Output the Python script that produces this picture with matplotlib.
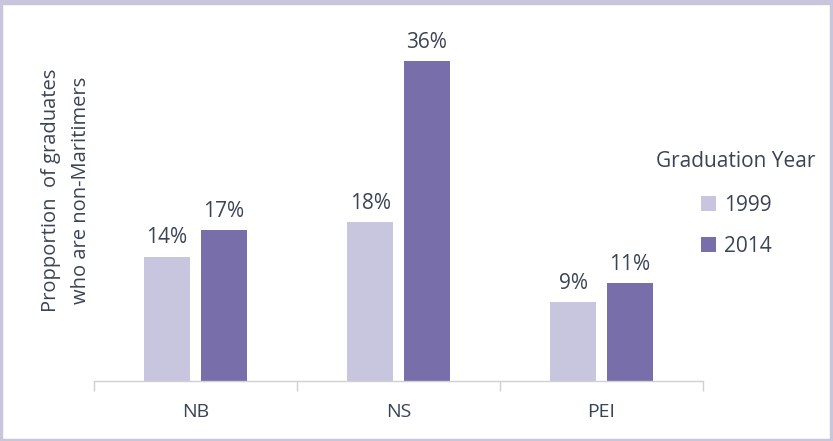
import matplotlib.pyplot as plt
import numpy as np
from matplotlib.patches import Rectangle

# data
provinces = ['NB', 'NS', 'PEI']
years = ['1999', '2014']
share_1999 = [14.0, 17.9, 8.9]
share_2014 = [17.0, 36.0, 11.0]
labels_1999 = ['14%', '18%', '9%']
labels_2014 = ['17%', '36%', '11%']

c1999 = '#c8c5de'
c2014 = '#786ea9'
text_col = '#3b4455'
frame_col = '#c8c5dd'

plt.rcParams['font.family'] = ['Open Sans', 'DejaVu Sans']

fig = plt.figure(figsize=(8.33, 4.41), dpi=100)
W, H = 833, 441
ax = fig.add_axes([94 / W, (H - 381) / H, (703 - 94) / W, (381 - 40) / H])

x = np.arange(len(provinces))
w = 0.227
off = 0.14
b1 = ax.bar(x - off, share_1999, w, color=c1999, label=years[0], zorder=2)
b2 = ax.bar(x + off, share_2014, w, color=c2014, label=years[1], zorder=2)

for bars, labs in [(b1, labels_1999), (b2, labels_2014)]:
    for b, lab in zip(bars, labs):
        ax.annotate(lab, (b.get_x() + b.get_width() / 2, b.get_height()),
                    xytext=(0, 6), textcoords='offset points',
                    ha='center', va='bottom', fontsize=15, color=text_col)

ax.set_xlim(-0.5, 2.5)
ax.set_ylim(0, 38.36)
ax.set_yticks([])
for s in ['top', 'right', 'left']:
    ax.spines[s].set_visible(False)
ax.spines['bottom'].set_color('#d0d0d0')
ax.spines['bottom'].set_linewidth(1)

# category labels in the middle, tick marks on the boundaries
ax.set_xticks(x)
ax.set_xticklabels(provinces, fontsize=14, color=text_col)
ax.tick_params(axis='x', which='major', length=0, pad=16)
ax.set_xticks([-0.5, 0.5, 1.5, 2.5], minor=True)
ax.tick_params(axis='x', which='minor', length=7, color='#d0d0d0', width=1)

fig.text(66 / W, 1 - 190 / H, 'Propportion  of graduates\nwho are non-Maritimers',
         rotation=90, ha='center', va='center', fontsize=14.5, color=text_col,
         linespacing=1.6)

leg = ax.legend(title='Graduation Year', loc='center', frameon=False,
                bbox_to_anchor=(736 / W, 1 - 204 / H), bbox_transform=fig.transFigure,
                fontsize=15, title_fontsize=15, handlelength=0.75, handleheight=0.75,
                handletextpad=0.35, labelspacing=0.95)
leg.get_title().set_color(text_col)
for t in leg.get_texts():
    t.set_color(text_col)
leg._legend_box.sep = 16

# lavender frame round the picture
for (x0, y0, ww, hh) in [(0, 0, W, 4), (0, 0, 2, H), (830, 0, 3, H), (0, 439, W, 2)]:
    fig.patches.append(Rectangle((x0 / W, 1 - (y0 + hh) / H), ww / W, hh / H,
                                 transform=fig.transFigure, color=frame_col, zorder=10))

fig.savefig('out.png', dpi=100)
